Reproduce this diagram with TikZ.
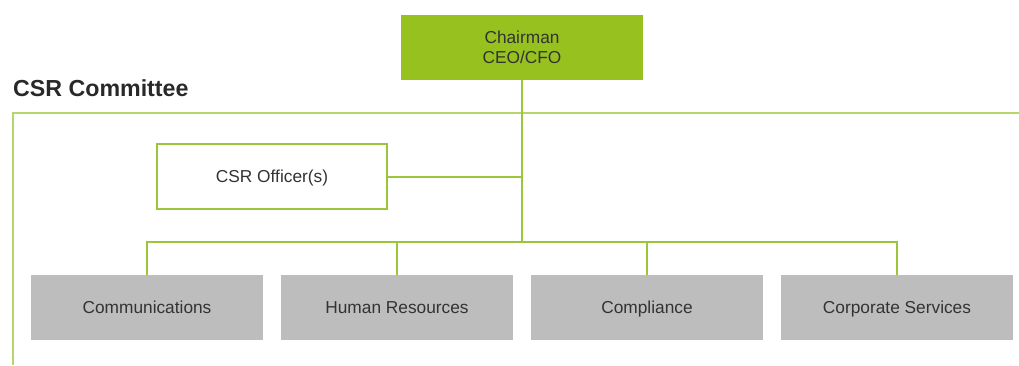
\documentclass[tikz,border=0pt]{standalone}
\usepackage{fontspec}
\setmainfont{Liberation Sans}
\definecolor{cgreen}{HTML}{96C11F}
\definecolor{cline}{HTML}{9CC63A}
\definecolor{cframe}{HTML}{B5D66A}
\definecolor{cgray}{HTML}{BDBDBD}
\definecolor{ctext}{HTML}{333333}
\begin{document}
\begin{tikzpicture}[x=1pt,y=-1pt,
  box/.style={minimum width=232pt,minimum height=65pt,inner sep=0pt,outer sep=0pt,
    text=ctext,font=\fontsize{17.3}{20}\selectfont,align=center},
  one/.style={text height=12.4pt,text depth=0pt},
  dept/.style={box,one,fill=cgray},
  conn/.style={draw=cline,line width=1.3pt},
  frame/.style={draw=cframe,line width=1.5pt}]
\useasboundingbox (0,0) rectangle (1019,365);
\node[box,fill=cgreen,minimum width=242pt] (chair) at (522,47.5) {Chairman\\CEO/CFO};
\node[anchor=base west,inner sep=0pt,text=ctext!80!black,font=\fontsize{23.2}{26}\selectfont\bfseries] (title) at (13,96) {CSR Committee};
\coordinate (fl) at (13,365);
\coordinate (ftl) at (13,113);
\coordinate (fr) at (1019,113);
\draw[frame] (fl) -- (ftl) -- (fr);
\node[box,one,draw=cline,line width=1.3pt,fill=white,minimum width=230pt,minimum height=65pt] (off) at (272,176.5) {CSR Officer(s)};
\node[dept] (d1) at (147,307.5) {Communications};
\node[dept] (d2) at (397,307.5) {Human Resources};
\node[dept] (d3) at (647,307.5) {Compliance};
\node[dept] (d4) at (897,307.5) {Corporate Services};
\coordinate (bus) at (522,242);
\draw[conn] (chair.south) -- (bus);
\draw[conn] ([yshift=-0.5pt]off.east) -- ([yshift=-0.5pt]off.east -| chair.south);
\draw[conn] (d1.north) -- (d1.north |- bus) -- (d4.north |- bus) -- (d4.north);
\draw[conn] (d2.north) -- (d2.north |- bus);
\draw[conn] (d3.north) -- (d3.north |- bus);
\end{tikzpicture}
\end{document}
